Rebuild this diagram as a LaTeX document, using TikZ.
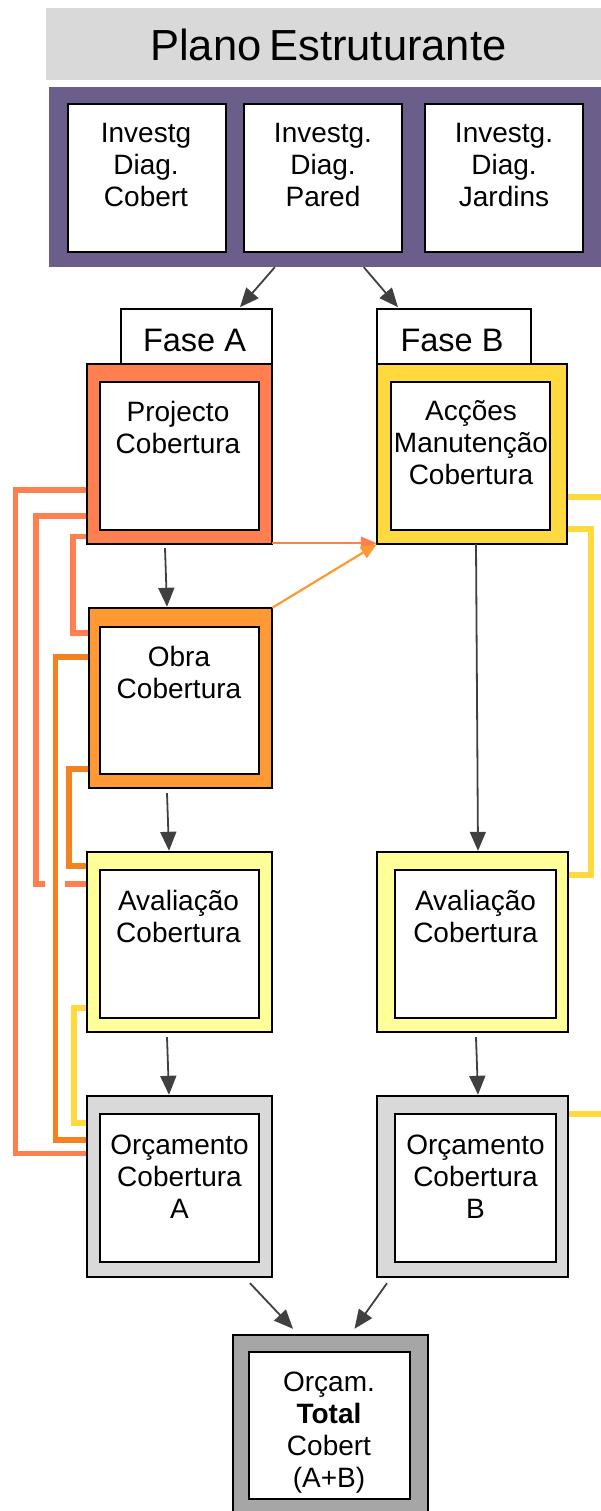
\documentclass[tikz,border=0pt]{standalone}
\usepackage{fontspec}
\setmainfont{Liberation Sans}
\usetikzlibrary{arrows.meta,fit,calc}
\definecolor{coral}{RGB}{255,127,80}
\definecolor{obraorange}{RGB}{255,153,51}
\definecolor{darkorange}{RGB}{245,130,32}
\definecolor{gold}{RGB}{255,217,61}
\definecolor{lightyellow}{RGB}{255,255,153}
\definecolor{lightgray}{RGB}{217,217,217}
\definecolor{midgray}{RGB}{166,166,166}
\definecolor{bandpurple}{RGB}{108,94,138}
\definecolor{arrowgray}{RGB}{64,64,64}
\begin{document}
\begin{tikzpicture}[x=1pt,y=-1pt,
  outerbox/.style={draw=black, line width=1.6pt, inner sep=0pt, outer sep=0pt},
  innerbox/.style={draw=black, line width=2pt, fill=white, inner sep=0pt, outer sep=0pt},
  boxtext/.style={font=\fontsize{28}{32}\selectfont, align=center, inner sep=0pt, anchor=north},
  grayarrow/.style={draw=arrowgray, line width=1.8pt, -{Triangle[length=19pt,width=16pt]}},
  colarrow/.style={line width=2.2pt, -{Triangle[length=16pt,width=13pt]}},
  feedback/.style={line width=5.5pt},
]
\clip (0,0) rectangle (601,1511);
\useasboundingbox (0,0) rectangle (601,1511);

% header
\node[fill=lightgray, inner sep=0pt, fit={(46,8)(601,80)}] (hdr) {};
\node[font=\fontsize{43.5}{48}\selectfont, anchor=base west, inner sep=0pt] (title) at (150,61) {Plano\hspace{8pt}Estruturante};

% purple band with three boxes
\node[fill=bandpurple, inner sep=0pt, fit={(49,87)(610,267)}] (band) {};
\node[innerbox, fit={(68,104)(226,252)}] (inv1) {};
\node[innerbox, fit={(244,104)(402,252)}] (inv2) {};
\node[innerbox, fit={(425,104)(583,252)}] (inv3) {};
\node[boxtext] (tinv1) at (146,123) {Investg\\Diag.\\Cobert};
\node[boxtext] (tinv2) at (323,123) {Investg.\\Diag.\\Pared};
\node[boxtext] (tinv3) at (504,123) {Investg.\\Diag.\\Jardins};

% phase headers
\node[draw=black, line width=1.6pt, fill=white, inner sep=0pt, fit={(121,309)(272,364)}] (faseA) {};
\node[draw=black, line width=1.6pt, fill=white, inner sep=0pt, fit={(377,309)(531,364)}] (faseB) {};
\node[font=\fontsize{32.5}{36}\selectfont, anchor=base, inner sep=0pt] (tfaseA) at (194.5,351) {Fase A};
\node[font=\fontsize{32.5}{36}\selectfont, anchor=base, inner sep=0pt] (tfaseB) at (452,351) {Fase B};

% outer box outlines as reference nodes (drawn later)
\path
  node[inner sep=0pt, fit={(87,364)(272,544)}] (pA) {}
  node[inner sep=0pt, fit={(89,608)(272,788)}] (obra) {}
  node[inner sep=0pt, fit={(87,852)(272,1032)}] (avA) {}
  node[inner sep=0pt, fit={(87,1096)(272,1277)}] (orA) {}
  node[inner sep=0pt, fit={(377,364)(567,544)}] (pB) {}
  node[inner sep=0pt, fit={(377,852)(568,1032)}] (avB) {}
  node[inner sep=0pt, fit={(377,1096)(568,1277)}] (orB) {}
  node[inner sep=0pt, fit={(233,1335)(428,1516)}] (tot) {};

% feedback connectors (left side)
\draw[feedback, coral] ($(pA.west)+(0,36)$) -- ++(-71.5,0) |- ($(orA.west)+(0,-33)$);
\draw[feedback, coral] ($(pA.west)+(0,62)$) -- ++(-51,0) |- ($(avA.west)+(0,-58)$);
\draw[feedback, coral] ($(pA.west)+(0,82.5)$) -- ++(-14,0) |- ($(obra.west)+(0,-65)$);
\draw[feedback, darkorange, preaction={draw=white, line width=20pt}] ($(obra.west)+(0,-41)$) -- ++(-33.5,0) |- ($(orA.west)+(0,-46.5)$);
\draw[feedback, darkorange] ($(obra.west)+(0,71)$) -- ++(-20,0) |- ($(avA.west)+(0,-76)$);
\draw[feedback, gold] ($(avA.west)+(0,66)$) -- ++(-13,0) |- ($(orA.west)+(0,-63.5)$);
% feedback connectors (right side)
\draw[feedback, gold] ($(pB.east)+(0,75)$) -- ++(24,0) |- ($(avB.east)+(0,-67)$);
\draw[feedback, gold] ($(pB.east)+(0,43)$) -- ++(50,0) |- ($(orB.east)+(0,-72.5)$);

% outer and inner boxes
\node[outerbox, fill=coral, fit={(87,364)(272,544)}] (pAo) {};
\node[innerbox, fit={(100,382)(259,530)}] (pAi) {};
\node[outerbox, fill=obraorange, fit={(89,608)(272,788)}] (obrao) {};
\node[innerbox, fit={(100,627)(259,774)}] (obrai) {};
\node[outerbox, fill=lightyellow, fit={(87,852)(272,1032)}] (avAo) {};
\node[innerbox, fit={(100,870)(259,1018)}] (avAi) {};
\node[outerbox, fill=lightgray, fit={(87,1096)(272,1277)}] (orAo) {};
\node[innerbox, fit={(100,1114)(259,1262)}] (orAi) {};
\node[outerbox, fill=gold, fit={(377,364)(567,544)}] (pBo) {};
\node[innerbox, fit={(391,382)(550,530)}] (pBi) {};
\node[outerbox, fill=lightyellow, fit={(377,852)(568,1032)}] (avBo) {};
\node[innerbox, fit={(395,870)(556,1018)}] (avBi) {};
\node[outerbox, fill=lightgray, fit={(377,1096)(568,1277)}] (orBo) {};
\node[innerbox, fit={(395,1114)(556,1262)}] (orBi) {};
\node[outerbox, fill=midgray, fit={(233,1335)(428,1516)}] (toto) {};
\node[innerbox, fit={(249,1352)(410,1499)}] (toti) {};

% texts
\node[boxtext] (tpA) at (178,401) {Projecto\\Cobertura};
\node[boxtext] (tpB) at (471,400.5) {Acções\\Manutenção\\Cobertura};
\node[boxtext] (tobra) at (179,646) {Obra\\Cobertura};
\node[boxtext] (tavA) at (178.5,890) {Avaliação\\Cobertura};
\node[boxtext] (tavB) at (475.5,890) {Avaliação\\Cobertura};
\node[boxtext] (torA) at (179.5,1135) {Orçamento\\Cobertura\\A};
\node[boxtext] (torB) at (475.5,1135) {Orçamento\\Cobertura\\B};
\node[boxtext] (ttot) at (329,1372) {Orçam.\\\textbf{Total}\\Cobert\\(A+B)};

% gray arrows
\draw[grayarrow] ($(band.south west)+(226,0)$) -- ($(faseA.north)+(43.5,-1)$);
\draw[grayarrow] ($(band.south west)+(315,0)$) -- ($(faseB.north)+(-56,-1)$);
\draw[grayarrow] ($(pA.south)+(-14.5,4)$) -- ($(obra.north)+(-13.5,-1)$);
\draw[grayarrow] ($(obra.south)+(-13.5,5)$) -- ($(avA.north)+(-10.5,-1)$);
\draw[grayarrow] ($(pB.south)+(4,0)$) -- ($(avB.north)+(5.5,-1)$);
\draw[grayarrow] ($(avA.south)+(-12.5,5)$) -- ($(orA.north)+(-10.5,-1)$);
\draw[grayarrow] ($(avB.south)+(3.5,5)$) -- ($(orB.north)+(5.5,-1)$);
\draw[grayarrow] ($(orA.south)+(70.5,6)$) -- ($(tot.north)+(-37.5,-6)$);
\draw[grayarrow] ($(orB.south)+(-85.5,6)$) -- ($(tot.north)+(24,-6)$);

% coloured arrows into Fase B
\draw[colarrow, coral] ($(pA.south east)+(0,-1)$) -- ($(pB.south west)+(0,-1)$);
\draw[colarrow, obraorange] (obra.north east) -- (pB.south west);
\end{tikzpicture}
\end{document}
